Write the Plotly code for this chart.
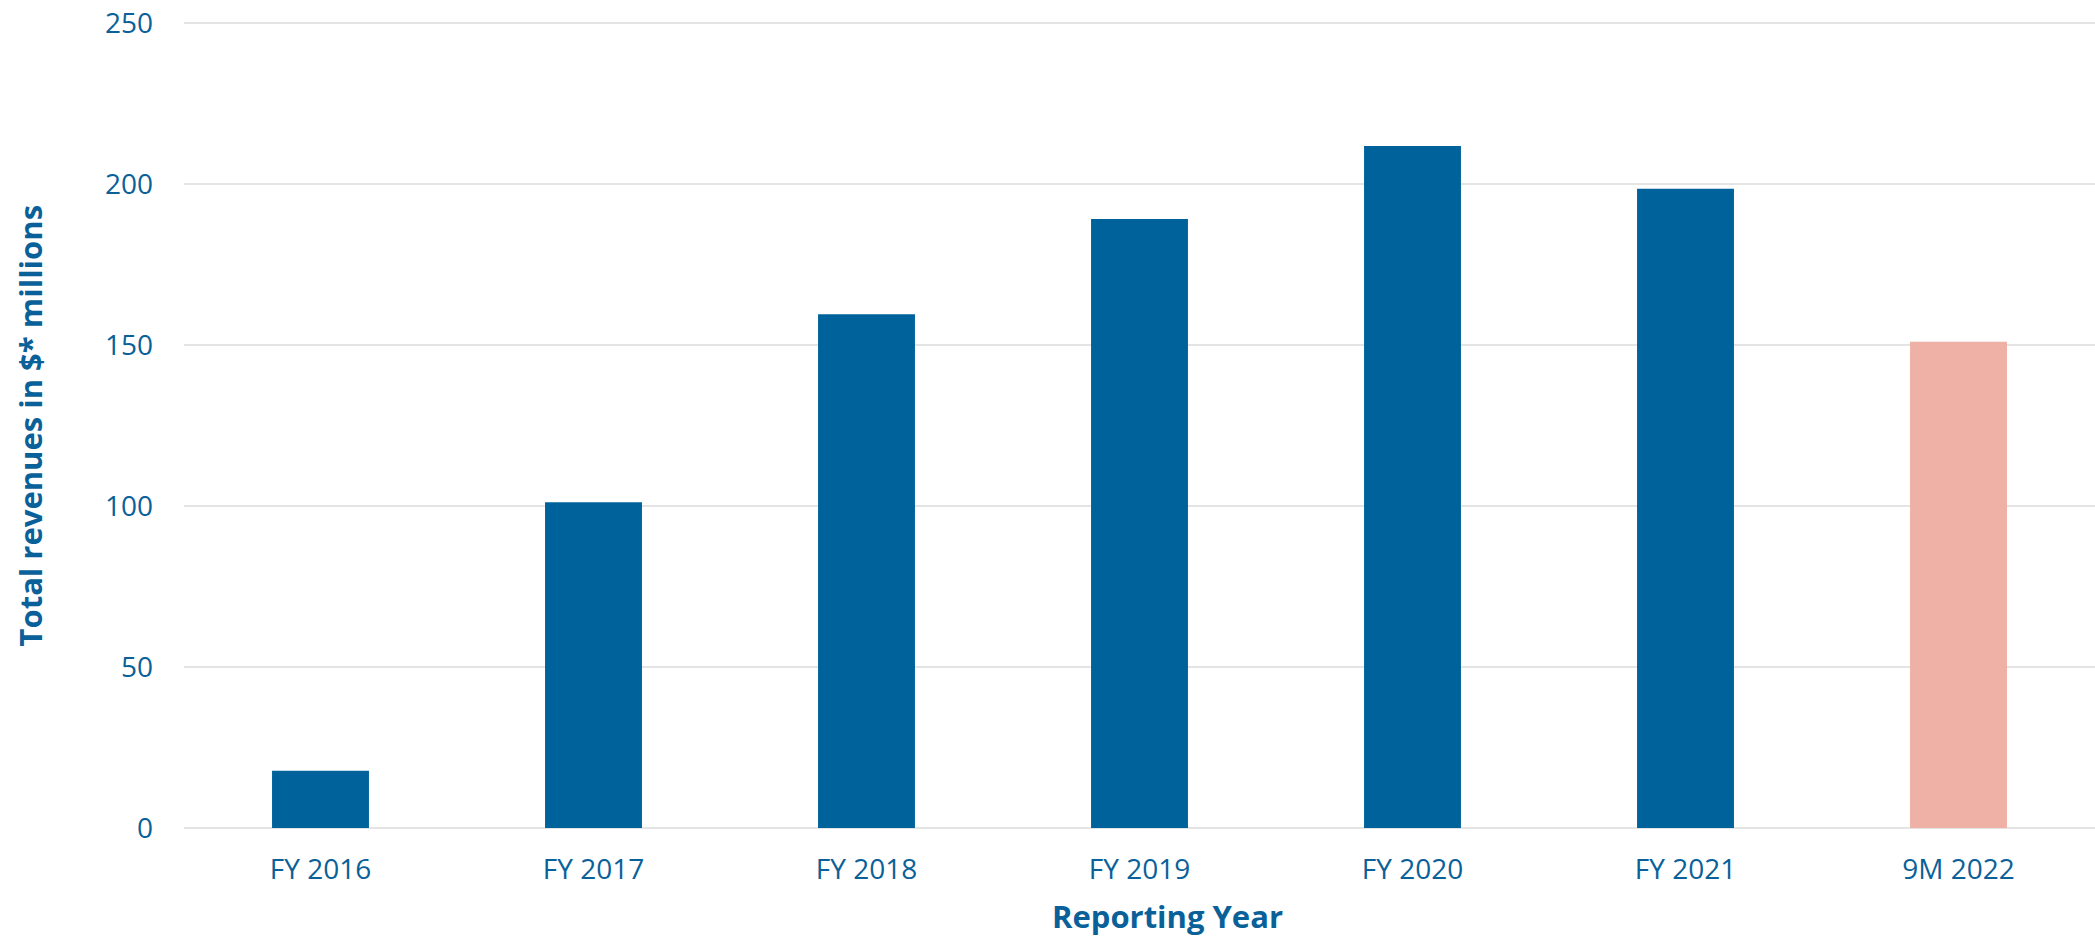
import plotly.graph_objects as go

categories = ["FY 2016", "FY 2017", "FY 2018", "FY 2019", "FY 2020", "FY 2021", "9M 2022"]
revenues = [17.8, 101.2, 159.6, 189.2, 211.9, 198.6, 151.1]
bar_colors = ["#00629B", "#00629B", "#00629B", "#00629B", "#00629B", "#00629B", "#EFB1A5"]
y_ticks = [0, 50, 100, 150, 200, 250]

TEXT = "#0A6199"
FONT = "Open Sans"

fig = go.Figure(
    go.Bar(x=categories, y=revenues, marker=dict(color=bar_colors, line=dict(width=0)),
           width=0.355)
)

fig.update_layout(
    width=2095, height=936,
    margin=dict(l=184, r=0, t=16.5, b=108),
    paper_bgcolor="white", plot_bgcolor="white",
    showlegend=False,
    font=dict(family=FONT, color=TEXT, size=28),
    xaxis=dict(showgrid=False, showline=False, ticks="", tickfont=dict(size=28, color=TEXT),
               ticklabelstandoff=22),
    yaxis=dict(range=[0, 252], tickvals=y_ticks, showgrid=True, gridcolor="#E4E4E4", gridwidth=2,
               zeroline=True, zerolinecolor="#E4E4E4", zerolinewidth=2, showline=False, ticks="",
               tickfont=dict(size=28, color=TEXT), ticklabelstandoff=30),
    annotations=[
        dict(text="<b>Reporting Year</b>", xref="paper", yref="paper", x=0.5144, y=-0.1085,
             xanchor="center", yanchor="middle", showarrow=False,
             font=dict(family=FONT, size=31, color=TEXT)),
        dict(text="<b>Total revenues in $* millions</b>", xref="paper", yref="paper", x=-0.0806, y=0.4963,
             xanchor="center", yanchor="middle", showarrow=False, textangle=-90,
             font=dict(family=FONT, size=31, color=TEXT)),
    ],
)

fig.write_html(
    "out.html",
    config={"displayModeBar": False},
    post_script="document.body.style.margin='0';document.body.style.overflow='hidden';",
)
